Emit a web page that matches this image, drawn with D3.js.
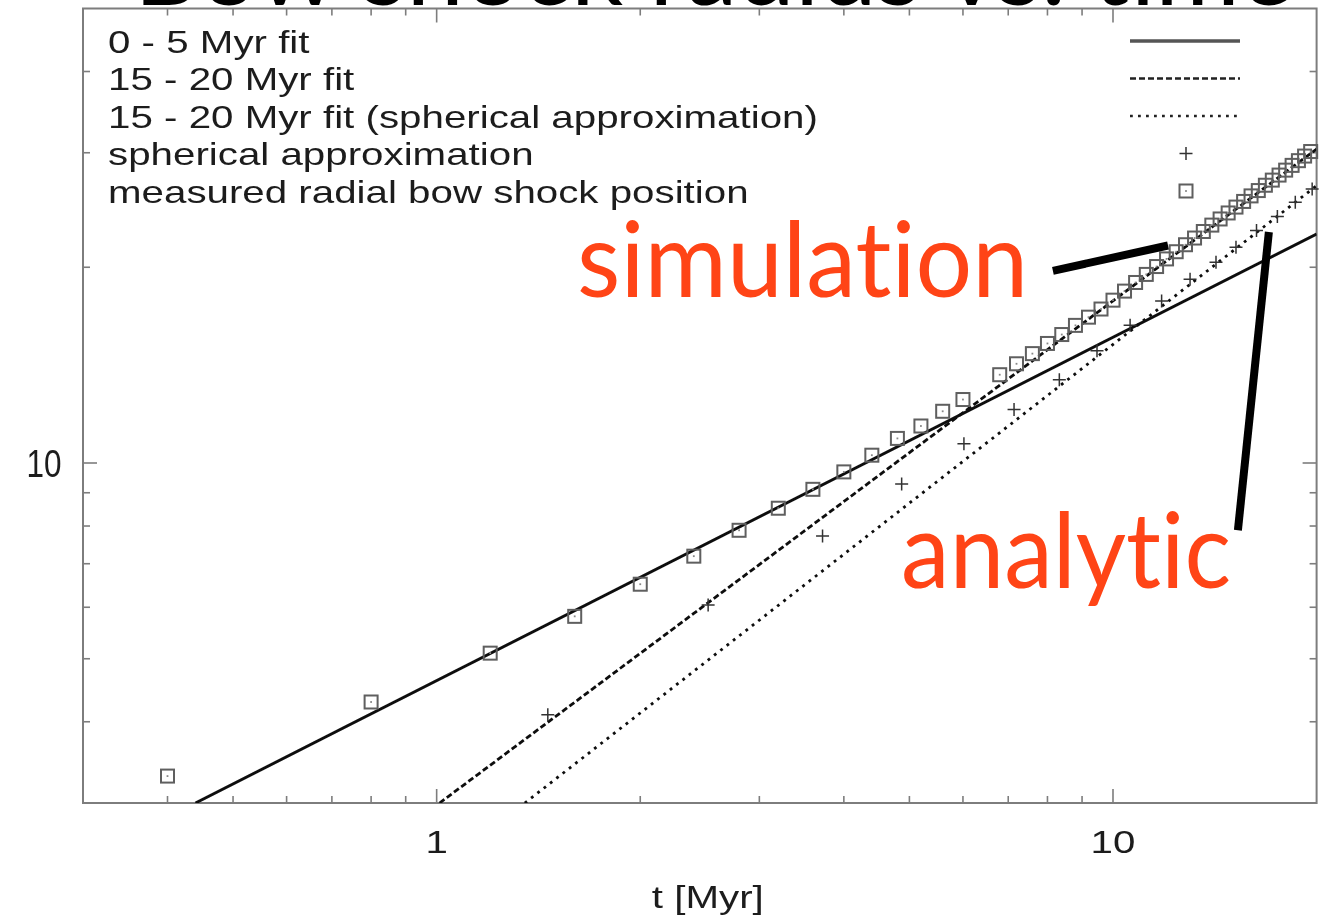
<!DOCTYPE html>
<html>
<head>
<meta charset="utf-8">
<script src="https://cdn.jsdelivr.net/npm/d3@7"></script>
<style>
  html, body { margin: 0; padding: 0; background: #fff; overflow: hidden; }
  svg { display: block; }
  .callout { font-variant-ligatures: none; font-feature-settings: "liga" 0, "clig" 0; }
</style>
</head>
<body>
<svg id="chart" width="1329" height="917"></svg>
<script>
// ---- data -------------------------------------------------------------
// measured radial bow shock position (t in Myr, r)
const measuredT = [0.4, 0.8, 1.2, 1.6, 2.0, 2.4, 2.8, 3.2, 3.6, 4.0, 4.4, 4.8, 5.2, 5.6, 6.0,
  6.8, 7.2, 7.6, 8.0, 8.4, 8.8, 9.2, 9.6, 10.0, 10.4, 10.8, 11.2, 11.6, 12.0, 12.4, 12.8,
  13.2, 13.6, 14.0, 14.4, 14.8, 15.2, 15.6, 16.0, 16.4, 16.8, 17.2, 17.6, 18.0, 18.4, 18.8,
  19.2, 19.6];
const measuredR = [3.30, 4.29, 5.10, 5.81, 6.51, 7.19, 7.88, 8.52, 9.11, 9.69, 10.28, 10.91,
  11.40, 12.01, 12.52, 13.67, 14.21, 14.73, 15.27, 15.76, 16.28, 16.76, 17.25, 17.80, 18.38,
  18.95, 19.50, 20.05, 20.60, 21.13, 21.66, 22.18, 22.70, 23.22, 23.73, 24.24, 24.75, 25.25,
  25.75, 26.24, 26.74, 27.23, 27.72, 28.21, 28.69, 29.17, 29.65, 30.13];

// spherical approximation
const sphericalT = [1.46, 2.52, 3.72, 4.87, 6.02, 7.14, 8.33, 9.47, 10.6, 11.8, 13.0, 14.2,
  15.2, 16.3, 17.5, 18.6, 19.7];
const sphericalR = [4.10, 6.05, 7.72, 9.28, 10.71, 12.09, 13.43, 14.88, 16.29, 17.74, 19.17,
  20.36, 21.47, 22.78, 23.93, 25.17, 26.39];

// power-law fits, straight on log-log axes: end points (t, r)
const fit05T = [0.44, 20];   const fit05R = [3.0, 22.5];
const fit1520T = [1.01, 20]; const fit1520R = [3.0, 30.4];
const fitSphT = [1.35, 20];  const fitSphR = [3.0, 26.7];

const legendLabels = [
  "0 - 5 Myr fit",
  "15 - 20 Myr fit",
  "15 - 20 Myr fit (spherical approximation)",
  "spherical approximation",
  "measured radial bow shock position"
];

const xDomain = [0.3, 20];
const yDomain = [3, 50];
const xTickValues = [1, 10];
const xTickLabels = ["1", "10"];
const yTickValues = [10];
const yTickLabels = ["10"];
const xAxisTitle = "t [Myr]";
const title = "Bow shock radius vs. time";

// annotation callouts (anchored in data coordinates)
const simLabel = { text: "simulation", t: 7.49, r: 17.97 };
const simPointer = [[8.15, 19.75], [12.06, 21.6]];
const anaLabel = { text: "analytic", t: 14.95, r: 6.42 };
const anaPointer = [[17.0, 22.66], [15.3, 7.88]];

// ---- layout -----------------------------------------------------------
const plot = { left: 83, right: 1316.6, top: 8.5, bottom: 803 };
const textStretch = 1.26;   // plot text is horizontally widened
const frameColor = "#7d7d7d";
const ink = "#1c1c1c";
const accent = "#ff4416";

const svg = d3.select("#chart");

const x = d3.scaleLog().domain(xDomain).range([plot.left, plot.right]);
const y = d3.scaleLog().domain(yDomain).range([plot.bottom, plot.top]);

const defs = svg.append("defs");
defs.append("filter").attr("id", "soft")
  .attr("x", "-5%").attr("y", "-5%").attr("width", "110%").attr("height", "110%")
  .append("feGaussianBlur").attr("stdDeviation", 0.65);
defs.append("clipPath").attr("id", "plotClip")
  .append("rect")
  .attr("x", plot.left).attr("y", plot.top)
  .attr("width", plot.right - plot.left).attr("height", plot.bottom - plot.top);

// ---- title (large slide heading, mostly above the visible area) ------
svg.append("text")
  .attr("x", 134).attr("y", 5)
  .attr("font-family", "Lato, 'Open Sans', sans-serif")
  .attr("font-size", 100)
  .attr("fill", "#000")
  .attr("textLength", 1160)
  .attr("lengthAdjust", "spacingAndGlyphs")
  .text(title);

const g = svg.append("g").attr("filter", "url(#soft)");

// ---- frame and ticks --------------------------------------------------
g.append("rect")
  .attr("x", plot.left).attr("y", plot.top)
  .attr("width", plot.right - plot.left).attr("height", plot.bottom - plot.top)
  .attr("fill", "none").attr("stroke", frameColor).attr("stroke-width", 2);

const isMajor = v => Math.abs(Math.log10(v) - Math.round(Math.log10(v))) < 1e-9;
const xTicks = x.ticks().filter(v => v > xDomain[0] && v < xDomain[1]);
const yTicks = y.ticks().filter(v => v > yDomain[0] && v < yDomain[1]);
const tickLen = v => isMajor(v) ? 14 : 7;

const ticks = g.append("g").attr("stroke", frameColor).attr("stroke-width", 1.6);
xTicks.forEach(v => {
  const px = x(v);
  ticks.append("line").attr("x1", px).attr("x2", px)
    .attr("y1", plot.bottom).attr("y2", plot.bottom - tickLen(v));
  ticks.append("line").attr("x1", px).attr("x2", px)
    .attr("y1", plot.top).attr("y2", plot.top + tickLen(v));
});
yTicks.forEach(v => {
  const py = y(v);
  ticks.append("line").attr("y1", py).attr("y2", py)
    .attr("x1", plot.left).attr("x2", plot.left + tickLen(v));
  ticks.append("line").attr("y1", py).attr("y2", py)
    .attr("x1", plot.right).attr("x2", plot.right - tickLen(v));
});

// stretched text helper for the plot's own labels
function plotText(parent, px, py, str, anchor, size) {
  return parent.append("text")
    .attr("transform", `translate(${px},${py}) scale(${textStretch},1)`)
    .attr("text-anchor", anchor)
    .attr("font-family", "'Liberation Sans', Arial, sans-serif")
    .attr("font-size", size)
    .attr("fill", ink)
    .text(str);
}

xTickValues.forEach((v, i) => plotText(g, x(v), 853, xTickLabels[i], "middle", 32));
plotText(g, (plot.left + plot.right) / 2 + 8, 908, xAxisTitle, "middle", 32);

yTickValues.forEach((v, i) => {
  g.append("text")
    .attr("x", 44).attr("y", y(v) + 14)
    .attr("text-anchor", "middle")
    .attr("font-family", "'Liberation Sans', Arial, sans-serif")
    .attr("font-size", 38)
    .attr("textLength", 35)
    .attr("lengthAdjust", "spacingAndGlyphs")
    .attr("fill", ink)
    .text(yTickLabels[i]);
});

// ---- fit lines --------------------------------------------------------
const line = d3.line().x(d => x(d[0])).y(d => y(d[1]));
const lines = g.append("g").attr("clip-path", "url(#plotClip)")
  .attr("fill", "none").attr("stroke", "#0c0c0c");

const styles = [
  { dash: null, width: 2.9 },
  { dash: "6,3", width: 2.8 },
  { dash: "2.8,5.2", width: 2.8 }
];
const fits = [
  { t: fit05T, r: fit05R, s: styles[0] },
  { t: fit1520T, r: fit1520R, s: styles[1] },
  { t: fitSphT, r: fitSphR, s: styles[2] }
];
fits.forEach(f => {
  lines.append("path")
    .attr("d", line(d3.zip(f.t, f.r)))
    .attr("stroke-width", f.s.width)
    .attr("stroke-dasharray", f.s.dash);
});

// ---- point markers ----------------------------------------------------
const sq = 13;
function square(parent, px, py) {
  parent.append("rect")
    .attr("x", px - sq / 2).attr("y", py - sq / 2)
    .attr("width", sq).attr("height", sq)
    .attr("fill", "none").attr("stroke", "#5e5e5e").attr("stroke-width", 2);
  parent.append("rect")
    .attr("x", px - 0.9).attr("y", py - 0.9).attr("width", 1.8).attr("height", 1.8)
    .attr("fill", "#888");
}
function plus(parent, px, py) {
  const h = 6.5;
  parent.append("path")
    .attr("d", `M${px - h},${py}H${px + h}M${px},${py - h}V${py + h}`)
    .attr("stroke", "#333").attr("stroke-width", 1.5).attr("fill", "none");
}

const pts = g.append("g");
d3.zip(sphericalT, sphericalR).forEach(([t, r]) => plus(pts, x(t), y(r)));
d3.zip(measuredT, measuredR).forEach(([t, r]) => square(pts, x(t), y(r)));

// ---- legend -----------------------------------------------------------
const legend = g.append("g");
const rowY = i => 41 + i * 37.5;
legendLabels.forEach((lab, i) => {
  plotText(legend, 108, rowY(i) + 11.5, lab, "start", 32);
});
[0, 1, 2].forEach(i => {
  legend.append("line")
    .attr("x1", 1130).attr("x2", 1240)
    .attr("y1", rowY(i)).attr("y2", rowY(i))
    .attr("stroke", i === 0 ? "#555" : "#222")
    .attr("stroke-width", i === 0 ? 3.4 : 2.6)
    .attr("stroke-dasharray", styles[i].dash);
});
plus(legend, 1186, rowY(3));
square(legend, 1186, rowY(4));

// ---- annotations ------------------------------------------------------
const ann = svg.append("g");
[simPointer, anaPointer].forEach(p => {
  ann.append("line")
    .attr("x1", x(p[0][0])).attr("y1", y(p[0][1]))
    .attr("x2", x(p[1][0])).attr("y2", y(p[1][1]))
    .attr("stroke", "#000").attr("stroke-width", 8);
});
[[simLabel, 451], [anaLabel, 330]].forEach(([lab, len]) => {
  ann.append("text")
    .attr("class", "callout")
    .attr("x", x(lab.t)).attr("y", y(lab.r))
    .attr("text-anchor", "end")
    .attr("font-family", "Lato, 'Open Sans', sans-serif")
    .attr("font-size", 104)
    .attr("fill", accent)
    .attr("textLength", len)
    .attr("lengthAdjust", "spacingAndGlyphs")
    .text(lab.text);
});
</script>
</body>
</html>
